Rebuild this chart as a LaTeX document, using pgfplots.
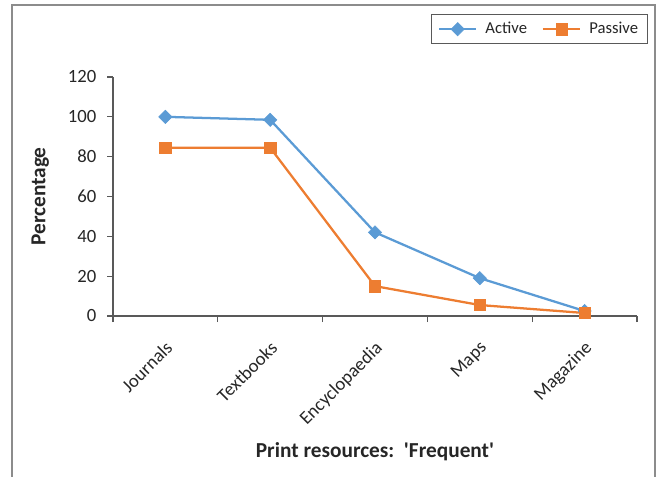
\documentclass[border=0pt]{standalone}
\usepackage{fontspec}
\setmainfont{Carlito}
\usepackage{pgfplots}
\pgfplotsset{compat=1.18}

\definecolor{activeblue}{HTML}{5B9BD5}
\definecolor{passiveorange}{HTML}{ED7D31}
\definecolor{axisgray}{HTML}{595959}
\definecolor{textgray}{HTML}{262626}
\definecolor{framegray}{HTML}{8C8C8C}

\begin{document}
\begin{tikzpicture}
% page area: 495pt x 357pt
\path (0pt,0pt) rectangle (495pt,357pt);
% chart frame, open at the bottom
\begin{scope}
\clip (0pt,0pt) rectangle (495pt,357pt);
\draw[framegray, line width=1.1pt] (9pt,-5pt) -- (9pt,353.25pt) -- (491.25pt,353.25pt) -- (491.25pt,-5pt);
\end{scope}

\begin{axis}[
  at={(84.75pt,120pt)}, anchor=south west,
  scale only axis,
  width=393pt, height=179.25pt,
  xmin=-0.5, xmax=4.5,
  ymin=0, ymax=120,
  axis lines*=left,
  axis line style={axisgray, line width=0.9pt},
  every tick/.style={axisgray, line width=0.9pt},
  tick align=outside,
  major tick length=4.5pt,
  minor tick length=4.5pt,
  ytick={0,20,...,120},
  xtick={0,1,2,3,4},
  xticklabels={Journals,Textbooks,Encyclopaedia,Maps,Magazine},
  major x tick style={draw=none},
  minor xtick={-0.5,0.5,1.5,2.5,3.5,4.5},
  /pgf/number format/assume math mode=true,
  tick label style={font=\fontsize{14}{16}\selectfont, text=textgray},
  yticklabel style={xshift=-4.5pt},
  xticklabel style={rotate=45, anchor=north east, inner sep=1pt, xshift=-9pt, yshift=-8pt},
  ylabel={\textbf{Percentage}},
  ylabel style={font=\fontsize{16}{18}\selectfont, text=textgray,
    at={(axis description cs:-0.139,0.5)}, anchor=center},
  xlabel={\textbf{Print resources:\ \ \textquotesingle Frequent\textquotesingle}},
  xlabel style={font=\fontsize{16}{18}\selectfont, text=textgray,
    at={(axis description cs:0.5,-0.569)}, anchor=center},
  clip=false,
  legend columns=2,
  legend cell align=left,
  legend style={
    at={(1.021,1.264)}, anchor=north east,
    draw=axisgray, line width=0.8pt,
    font=\fontsize{12.5}{14}\selectfont, text=textgray,
    inner xsep=5pt, inner ysep=4pt,
    /tikz/every odd column/.append style={column sep=4pt},
    /tikz/every even column/.append style={column sep=9pt},
  },
  legend image code/.code={
    \draw[mark repeat=2, mark phase=2] plot coordinates {(0pt,0pt) (14pt,0pt) (28pt,0pt)};
  },
]
\addplot[activeblue, line width=1.7pt, mark=square*, mark size=3.5pt,
  mark options={rotate=45, activeblue, line width=0.5pt}]
  coordinates {(0,100) (1,98.5) (2,42) (3,19) (4,2.5)};
\addlegendentry{Active}
\addplot[passiveorange, line width=1.7pt, mark=square*, mark size=4.3pt,
  mark options={passiveorange, line width=0.5pt}]
  coordinates {(0,84.5) (1,84.5) (2,15) (3,5.5) (4,1.5)};
\addlegendentry{Passive}
\end{axis}
\end{tikzpicture}
\end{document}
